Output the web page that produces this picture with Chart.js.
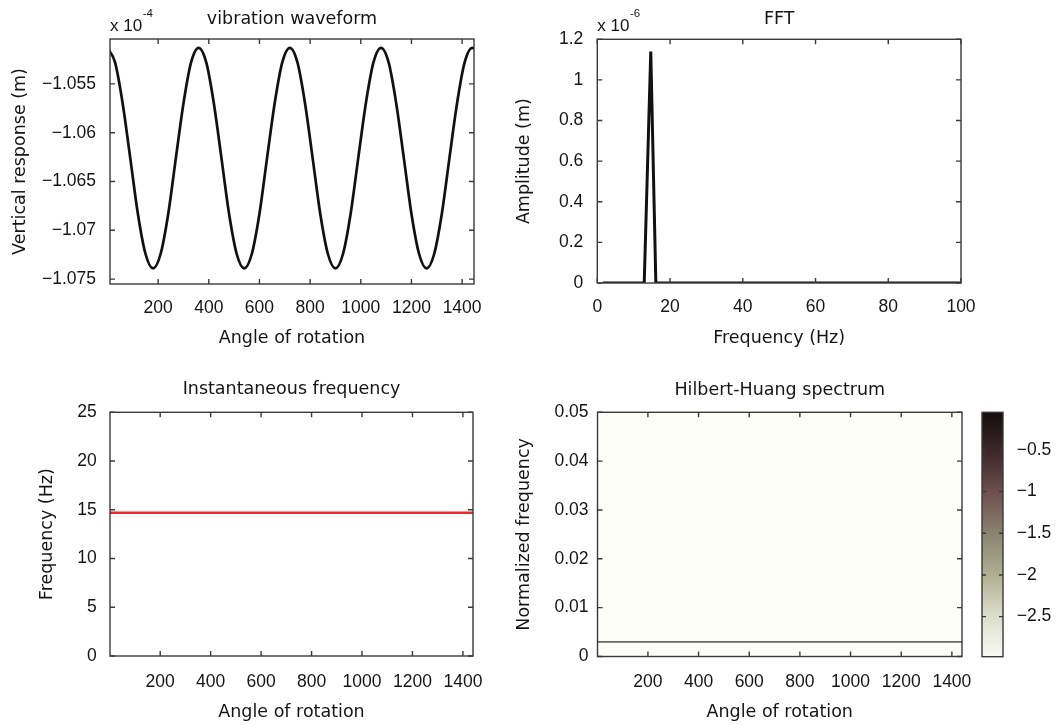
<!DOCTYPE html>
<html lang="en">
<head>
<meta charset="UTF-8">
<title>Vibration waveform, FFT and Hilbert-Huang spectrum</title>
<script src="https://cdn.jsdelivr.net/npm/chart.js"></script>
<style>
    html, body {
        margin: 0;
        padding: 0;
        background: #fff;
    }

    body {
        width: 1057px;
        height: 725px;
        position: relative;
        overflow: hidden;
    }

    .panel {
        position: absolute;
    }
</style>
</head>
<body>
<div class="panel" style="left:0;top:0;width:520px;height:350px"><canvas id="wave"></canvas></div>
<div class="panel" style="left:500px;top:0;width:557px;height:350px"><canvas id="fft"></canvas></div>
<div class="panel" style="left:0;top:370px;width:520px;height:355px"><canvas id="inst"></canvas></div>
<div class="panel" style="left:500px;top:370px;width:500px;height:355px"><canvas id="hhs"></canvas></div>
<div class="panel" style="left:970px;top:370px;width:87px;height:355px"><canvas id="cbar"></canvas></div>

<script>
    // vibration waveform (values in units of 1e-4 m)
    const waveAngle = [0, 30, 60, 90, 120, 150, 180, 210, 240, 270, 300, 330,
        360, 390, 420, 450, 480, 510, 540, 570, 600, 630, 660, 690,
        720, 750, 780, 810, 840, 870, 900, 930, 960, 990, 1020, 1050,
        1080, 1110, 1140, 1170, 1200, 1230, 1260, 1290, 1320, 1350, 1380, 1410,
        1440, 1450];
    const waveResp = [-1.0513, -1.0528, -1.0570, -1.0626, -1.0683, -1.0724, -1.0739, -1.0724, -1.0683, -1.0626, -1.0570, -1.0528,
        -1.0513, -1.0528, -1.0570, -1.0626, -1.0683, -1.0724, -1.0739, -1.0724, -1.0683, -1.0626, -1.0570, -1.0528,
        -1.0513, -1.0528, -1.0570, -1.0626, -1.0683, -1.0724, -1.0739, -1.0724, -1.0683, -1.0626, -1.0570, -1.0528,
        -1.0513, -1.0528, -1.0570, -1.0626, -1.0683, -1.0724, -1.0739, -1.0724, -1.0683, -1.0626, -1.0570, -1.0528,
        -1.0513, -1.0514];

    // FFT (amplitude in units of 1e-6 m)
    const fftFreq = [1.5, 12.9, 14.7, 16.1, 100];
    const fftAmp = [0, 0, 1.14, 0, 0];

    // instantaneous frequency
    const instAngle = [1, 1440];
    const instFreq = [14.7, 14.7];

    // Hilbert-Huang spectrum ridge
    const hhsAngle = [1, 1440];
    const hhsFreq = [0.003, 0.003];

    // tick labels
    const angleTicks = [200, 400, 600, 800, 1000, 1200, 1400];
    const waveTicks = [-1.075, -1.07, -1.065, -1.06, -1.055];
    const fftTicks = [0, 20, 40, 60, 80, 100];
    const ampTicks = [0, 0.2, 0.4, 0.6, 0.8, 1, 1.2];
    const freqTicks = [0, 5, 10, 15, 20, 25];
    const normTicks = [0, 0.01, 0.02, 0.03, 0.04, 0.05];
    const cbarTicks = [-2.5, -2, -1.5, -1, -0.5];
    const cbarRange = [-2.98, -0.05];

    const ink = '#151515';
    const tickFont = { family: '"Liberation Sans", Arial, sans-serif', size: 17.5 };
    const titleFont = { family: '"DejaVu Sans", sans-serif', size: 17.5, weight: 'normal' };
    const noGrid = { display: false, drawTicks: false };

    const fmt = v => parseFloat(v.toFixed(4)).toString().replace('-', '\u2212');

    // box round the plot area with inward ticks on all four sides
    const framePlugin = {
        id: 'frame',
        afterDatasetsDraw(chart, args, opts) {
            const { ctx, chartArea: a } = chart;
            const len = opts.tick || 5;
            ctx.save();
            ctx.strokeStyle = '#3a3a3a';
            ctx.lineWidth = 1.4;
            ctx.strokeRect(a.left, a.top, a.right - a.left, a.bottom - a.top);
            ctx.beginPath();
            Object.values(chart.scales).forEach(s => {
                if (!s.options.display) return;
                s.ticks.forEach(t => {
                    const p = s.getPixelForValue(t.value);
                    if (s.isHorizontal()) {
                        ctx.moveTo(p, a.bottom); ctx.lineTo(p, a.bottom - len);
                        ctx.moveTo(p, a.top); ctx.lineTo(p, a.top + len);
                    } else {
                        ctx.moveTo(a.left, p); ctx.lineTo(a.left + len, p);
                        ctx.moveTo(a.right, p); ctx.lineTo(a.right - len, p);
                    }
                });
            });
            ctx.stroke();
            ctx.restore();
        }
    };

    // "x 10^n" multiplier above the y axis
    const expPlugin = {
        id: 'expLabel',
        afterDraw(chart, args, opts) {
            if (!opts.exp) return;
            const { ctx, chartArea: a } = chart;
            ctx.save();
            ctx.fillStyle = ink;
            ctx.textBaseline = 'alphabetic';
            ctx.font = '17px "Liberation Sans", Arial, sans-serif';
            ctx.fillText('x 10', a.left, a.top - 8);
            const w = ctx.measureText('x 10').width;
            ctx.font = '11.5px "Liberation Sans", Arial, sans-serif';
            ctx.fillText(opts.exp, a.left + w + 0.5, a.top - 22);
            ctx.restore();
        }
    };

    const bgPlugin = {
        id: 'plotBg',
        beforeDatasetsDraw(chart, args, opts) {
            if (!opts.color) return;
            const { ctx, chartArea: a } = chart;
            ctx.save();
            ctx.fillStyle = opts.color;
            ctx.fillRect(a.left, a.top, a.right - a.left, a.bottom - a.top);
            ctx.restore();
        }
    };

    function points(xs, ys) {
        return xs.map((x, i) => ({ x: x, y: ys[i] }));
    }

    function panel(id, o) {
        return new Chart(document.getElementById(id), {
            type: 'line',
            data: { datasets: o.datasets },
            options: {
                animation: false,
                responsive: true,
                maintainAspectRatio: false,
                layout: { padding: { left: 0, right: o.padRight, top: 0, bottom: 0 } },
                plugins: {
                    legend: { display: false },
                    tooltip: { enabled: false },
                    title: { display: true, text: o.title, fullSize: false, color: ink, font: titleFont, padding: o.titlePad },
                    expLabel: { exp: o.exp },
                    plotBg: { color: o.bg }
                },
                scales: {
                    x: {
                        type: 'linear', min: o.xMin, max: o.xMax,
                        grid: noGrid, border: { display: false },
                        ticks: { font: tickFont, color: ink, padding: o.xTickPad, maxRotation: 0, autoSkip: false, callback: fmt },
                        title: { display: true, text: o.xTitle, font: titleFont, color: ink, padding: { top: 0, bottom: o.xTitlePad } },
                        afterBuildTicks: s => { s.ticks = o.xTicks.map(v => ({ value: v })); },
                        afterFit: s => { s.height = o.xAxisH; }
                    },
                    y: {
                        type: 'linear', min: o.yMin, max: o.yMax,
                        grid: noGrid, border: { display: false },
                        ticks: { font: tickFont, color: ink, padding: o.yTickPad, autoSkip: false, callback: fmt },
                        title: { display: true, text: o.yTitle, font: titleFont, color: ink, padding: { top: o.yTitlePad, bottom: 0 } },
                        afterBuildTicks: s => { s.ticks = o.yTicks.map(v => ({ value: v })); },
                        afterFit: s => { s.width = o.yAxisW; }
                    }
                }
            },
            plugins: [bgPlugin, framePlugin, expPlugin]
        });
    }

    panel('wave', {
        title: 'vibration waveform', exp: '-4',
        datasets: [{
            data: points(waveAngle, waveResp), borderColor: '#111', borderWidth: 2.7,
            pointRadius: 0, fill: false, cubicInterpolationMode: 'monotone'
        }],
        xMin: 10, xMax: 1447, xTicks: angleTicks, xTitle: 'Angle of rotation',
        yMin: -1.0755, yMax: -1.0504, yTicks: waveTicks, yTitle: 'Vertical response (m)',
        padRight: 46, titlePad: { top: 9, bottom: 9 }, xAxisH: 66, yAxisW: 110,
        xTickPad: 14, xTitlePad: 1, yTickPad: 14, yTitlePad: 9.5
    });

    panel('fft', {
        title: 'FFT', exp: '-6',
        datasets: [{
            data: points(fftFreq, fftAmp), borderColor: '#111', borderWidth: 3,
            pointRadius: 0, fill: false, tension: 0
        }],
        xMin: 0, xMax: 100, xTicks: fftTicks, xTitle: 'Frequency (Hz)',
        yMin: 0, yMax: 1.2, yTicks: ampTicks, yTitle: 'Amplitude (m)',
        padRight: 96, titlePad: { top: 9, bottom: 9.3 }, xAxisH: 67, yAxisW: 97.3,
        xTickPad: 14, xTitlePad: 1, yTickPad: 14, yTitlePad: 13.5
    });

    panel('inst', {
        title: 'Instantaneous frequency',
        datasets: [{
            data: points(instAngle, instFreq), borderColor: '#e8282e', borderWidth: 2.4,
            pointRadius: 0, fill: false
        }],
        xMin: 1, xMax: 1440, xTicks: angleTicks, xTitle: 'Angle of rotation',
        yMin: 0, yMax: 25, yTicks: freqTicks, yTitle: 'Frequency (Hz)',
        padRight: 47, titlePad: { top: 9, bottom: 12.3 }, xAxisH: 69, yAxisW: 110,
        xTickPad: 15.5, xTitlePad: 2, yTickPad: 13.3, yTitlePad: 37
    });

    panel('hhs', {
        title: 'Hilbert-Huang spectrum', bg: '#fefef8',
        datasets: [{
            data: points(hhsAngle, hhsFreq), borderColor: '#666', borderWidth: 1.6,
            pointRadius: 0, fill: false
        }],
        xMin: 1, xMax: 1440, xTicks: angleTicks, xTitle: 'Angle of rotation',
        yMin: 0, yMax: 0.05, yTicks: normTicks, yTitle: 'Normalized frequency',
        padRight: 38, titlePad: { top: 9.5, bottom: 11.8 }, xAxisH: 68.5, yAxisW: 97.5,
        xTickPad: 15.5, xTitlePad: 2, yTickPad: 9, yTitlePad: 13.5
    });

    // colour bar of the spectrum
    const cbarStops = [
        [0, '#fafaf5'], [0.17, '#dcdccc'], [0.33, '#b0b092'], [0.5, '#8a8472'],
        [0.67, '#6e5050'], [0.83, '#3e2a2c'], [1, '#140d0d']
    ];

    new Chart(document.getElementById('cbar'), {
        type: 'bar',
        data: {
            labels: [''],
            datasets: [{
                data: [cbarRange],
                borderWidth: 0,
                barPercentage: 1,
                categoryPercentage: 1,
                backgroundColor: c => {
                    const a = c.chart.chartArea;
                    if (!a) return '#888';
                    const g = c.chart.ctx.createLinearGradient(0, a.bottom, 0, a.top);
                    cbarStops.forEach(s => g.addColorStop(s[0], s[1]));
                    return g;
                }
            }]
        },
        options: {
            animation: false,
            responsive: true,
            maintainAspectRatio: false,
            layout: { padding: { left: 12, right: 0, top: 42.3, bottom: 68.3 } },
            plugins: {
                legend: { display: false },
                tooltip: { enabled: false },
                frame: { tick: 4 }
            },
            scales: {
                x: { display: false },
                y: {
                    position: 'right', min: cbarRange[0], max: cbarRange[1],
                    grid: noGrid, border: { display: false },
                    ticks: { font: tickFont, color: ink, padding: 13.7, callback: fmt },
                    afterBuildTicks: s => { s.ticks = cbarTicks.map(v => ({ value: v })); },
                    afterFit: s => { s.width = 54; }
                }
            }
        },
        plugins: [framePlugin]
    });
</script>
</body>
</html>
